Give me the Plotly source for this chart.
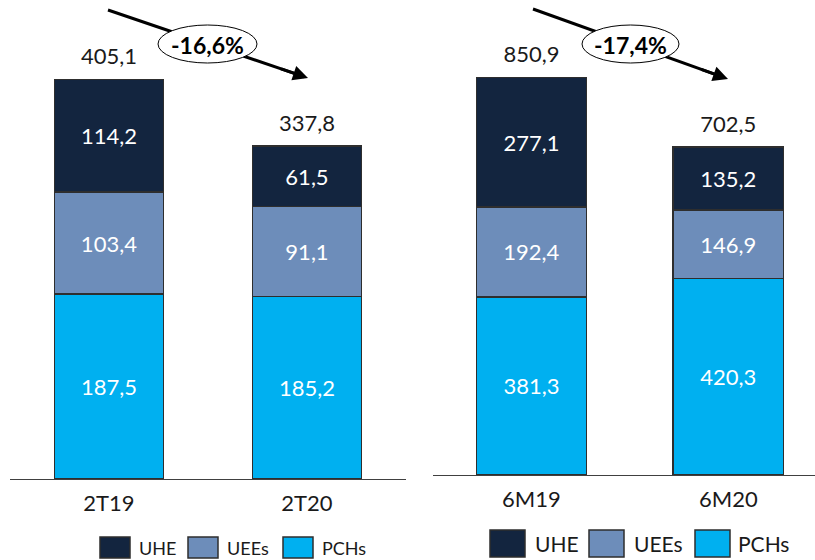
import plotly.graph_objects as go

# Generation by source (GWh): quarter and half-year comparisons
periods_q = ["2T19", "2T20"]
periods_s = ["6M19", "6M20"]
series_names = ["PCHs", "UEEs", "UHE"]

pch_q = [187.5, 185.2]
uee_q = [103.4, 91.1]
uhe_q = [114.2, 61.5]
total_q = [405.1, 337.8]

pch_s = [381.3, 420.3]
uee_s = [192.4, 146.9]
uhe_s = [277.1, 135.2]
total_s = [850.9, 702.5]

changes = ["-16,6%", "-17,4%"]
legend_order = ["UHE", "UEEs", "PCHs"]

colors = {"UHE": "#13253f", "UEEs": "#6d8dba", "PCHs": "#00b0f0"}
edge = "#2e2e2e"
FONT = "Lato"

W, H = 815, 560


def px(x):
    return x / W


def py(y):
    return 1 - y / H


fig = go.Figure()

panels = [
    (periods_q, [pch_q, uee_q, uhe_q], total_q, "x", "y", 0.55),
    (periods_s, [pch_s, uee_s, uhe_s], total_s, "x2", "y2", 0.56),
]

for cats, stacks, totals, xa, ya, bw in panels:
    for name, vals in zip(series_names, stacks):
        fig.add_trace(go.Bar(
            x=cats, y=vals, name=name, xaxis=xa, yaxis=ya, width=bw,
            marker=dict(color=colors[name], line=dict(color=edge, width=1.5)),
            texttemplate="%{y:.1f}", textposition="inside",
            insidetextanchor="middle",
            textfont=dict(color="white", size=22, family=FONT),
            showlegend=False, hoverinfo="skip",
        ))
    # totals above each stack; the transparent marker adds a little headroom
    fig.add_trace(go.Scatter(
        x=cats, y=totals, xaxis=xa, yaxis=ya, mode="markers+text",
        marker=dict(size=14, opacity=0),
        texttemplate="%{y:.1f}", textposition="top center",
        textfont=dict(color="#1a1a1a", size=22, family=FONT),
        showlegend=False, hoverinfo="skip",
    ))

axis_common = dict(
    type="category", showline=True, linecolor="#404040", linewidth=1,
    showgrid=False, zeroline=False, ticks="outside", ticklen=5,
    tickcolor="rgba(0,0,0,0)", tickfont=dict(size=22, family=FONT, color="#1a1a1a"),
    fixedrange=True,
)

fig.update_layout(
    width=W, height=H,
    margin=dict(l=0, r=0, t=0, b=0),
    paper_bgcolor="white", plot_bgcolor="white",
    barmode="stack", separators=",.",
    font=dict(family=FONT),
    xaxis=dict(domain=[px(10), px(406)], range=[-0.5, 1.5], anchor="y", **axis_common),
    yaxis=dict(domain=[py(479), 1], range=[0, 485.8], visible=False, fixedrange=True),
    xaxis2=dict(domain=[px(433), 1], range=[-0.5, 1.44], anchor="y2", **axis_common),
    yaxis2=dict(domain=[py(475), 1], range=[0, 1017], visible=False, fixedrange=True),
)

# Trend arrows with the percentage change in an ellipse
arrows = [
    dict(start=(108, 10), end=(308, 78), ell=(158, 25, 257, 63)),
    dict(start=(533, 9), end=(728, 79), ell=(582, 25, 679, 63)),
]
shapes = []
annotations = []
for arr, label in zip(arrows, changes):
    (x0, y0), (x1, y1) = arr["start"], arr["end"]
    dx, dy = x1 - x0, y1 - y0
    length = (dx ** 2 + dy ** 2) ** 0.5
    ux, uy = dx / length, dy / length
    shapes.append(dict(
        type="line", xref="paper", yref="paper",
        x0=px(x0), y0=py(y0), x1=px(x1 - 12 * ux), y1=py(y1 - 12 * uy),
        line=dict(color="black", width=3),
    ))
    ex0, ey0, ex1, ey1 = arr["ell"]
    shapes.append(dict(
        type="circle", xref="paper", yref="paper",
        x0=px(ex0), y0=py(ey1), x1=px(ex1), y1=py(ey0),
        fillcolor="white", line=dict(color="black", width=1),
    ))
    annotations.append(dict(
        xref="paper", yref="paper", x=px(x1), y=py(y1),
        ax=-30 * ux, ay=-30 * uy, axref="pixel", ayref="pixel",
        text="", showarrow=True, arrowhead=2, arrowsize=1,
        arrowwidth=3, arrowcolor="black",
    ))
    annotations.append(dict(
        xref="paper", yref="paper", x=px((ex0 + ex1) / 2), y=py((ey0 + ey1) / 2 + 1),
        text=f"<b>{label}</b>", showarrow=False,
        font=dict(size=23, family=FONT, color="black"),
        xanchor="center", yanchor="middle",
    ))

# Legends under each panel
legends = [
    dict(boxes=[100, 188, 283], texts=[137, 225, 320], bw=30, y0=537, y1=558, size=18),
    dict(boxes=[490, 589, 695], texts=[533, 632, 736], bw=35, y0=530, y1=557, size=21),
]
for lg in legends:
    for name, bx, tx in zip(legend_order, lg["boxes"], lg["texts"]):
        shapes.append(dict(
            type="rect", xref="paper", yref="paper",
            x0=px(bx), x1=px(bx + lg["bw"]), y0=py(lg["y1"]), y1=py(lg["y0"]),
            fillcolor=colors[name], line=dict(color=edge, width=1.5),
        ))
        annotations.append(dict(
            xref="paper", yref="paper", x=px(tx), y=py((lg["y0"] + lg["y1"]) / 2),
            text=name, showarrow=False, xanchor="left", yanchor="middle",
            font=dict(size=lg["size"], family=FONT, color="#1a1a1a"),
        ))

fig.update_layout(shapes=shapes, annotations=annotations)

fig.write_html("out.html")
